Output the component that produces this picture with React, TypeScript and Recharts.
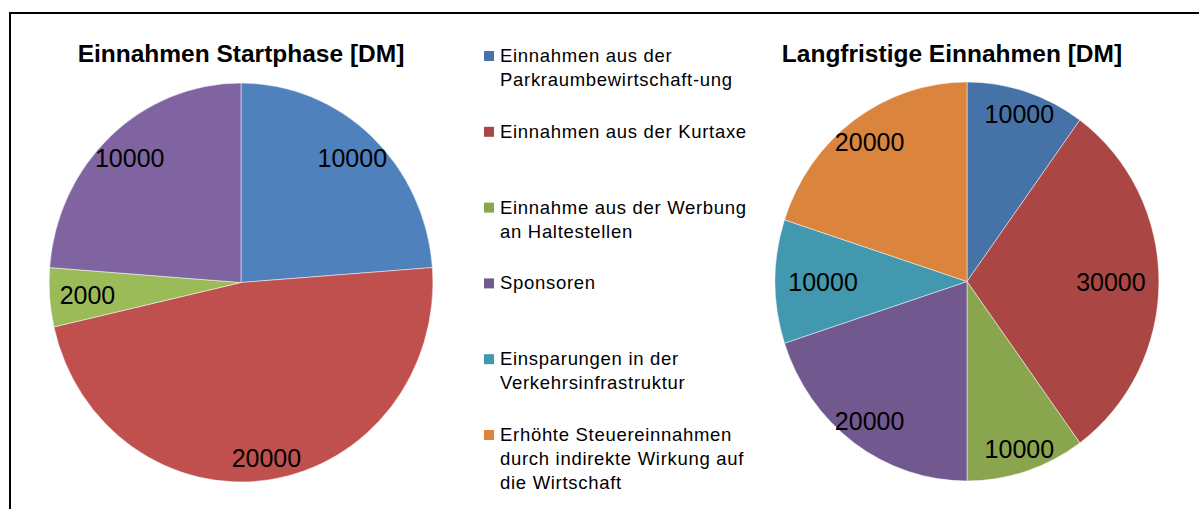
import { Cell, Pie, PieChart } from 'recharts';

const categories = [
  'Einnahmen aus der\nParkraumbewirtschaft-ung',
  'Einnahmen aus der Kurtaxe',
  'Einnahme aus der Werbung\nan Haltestellen',
  'Sponsoren',
  'Einsparungen in der\nVerkehrsinfrastruktur',
  'Erhöhte Steuereinnahmen\ndurch indirekte Wirkung auf\ndie Wirtschaft',
];

const startValues = [10000, 20000, 2000, 10000];
const longTermValues = [10000, 30000, 10000, 20000, 10000, 20000];

const startColors = ['#4F81BD', '#C0504D', '#9BBB59', '#8064A2'];
const longTermColors = ['#4572A7', '#AA4643', '#89A54E', '#71588F', '#4198AF', '#DB843D'];

const startTitle = 'Einnahmen Startphase [DM]';
const longTermTitle = 'Langfristige Einnahmen [DM]';

const startData = startValues.map((value, i) => ({ name: categories[i], value }));
const longTermData = longTermValues.map((value, i) => ({ name: categories[i], value }));

const RADIAN = Math.PI / 180;
const FONT = '"Liberation Sans", Arial, sans-serif';
// the original pies are a bit squashed horizontally
const SQUASH = 0.962;

// labels sit near the rim, pulled in more where the text is wide (left/right)
const renderLabel = (props: any) => {
  const { cx, cy, midAngle, outerRadius, value } = props;
  const s = Math.abs(Math.sin(-midAngle * RADIAN));
  const text = String(value);
  const r = outerRadius * (0.75 + 0.14 * s) + (5 - text.length) * 9 * (1 - s);
  const x = cx + (r / SQUASH) * Math.cos(-midAngle * RADIAN) * SQUASH;
  const y = cy + r * Math.sin(-midAngle * RADIAN);
  return (
    <text
      x={x}
      y={y}
      fill="#000"
      fontSize={26}
      fontFamily={FONT}
      textAnchor="middle"
      dominantBaseline="central"
    >
      {text}
    </text>
  );
};

function OnePie({ data, colors, cx, cy }: { data: { name: string; value: number }[]; colors: string[]; cx: number; cy: number }) {
  return (
    <div
      style={{
        position: 'absolute',
        left: 0,
        top: 0,
        transform: `scaleX(${SQUASH})`,
        transformOrigin: `${cx}px 0px`,
      }}
    >
      <PieChart width={1199} height={509} margin={{ top: 0, right: 0, bottom: 0, left: 0 }}>
        <Pie
          data={data}
          dataKey="value"
          nameKey="name"
          cx={cx}
          cy={cy}
          outerRadius={199.5}
          startAngle={90}
          endAngle={-270}
          stroke="#fff"
          strokeWidth={0.5}
          label={renderLabel}
          labelLine={false}
          isAnimationActive={false}
        >
          {data.map((d, i) => (
            <Cell key={d.name} fill={colors[i]} />
          ))}
        </Pie>
      </PieChart>
    </div>
  );
}

export default function App() {
  return (
    <div style={{ position: 'absolute', left: 0, top: 0, width: 1199, height: 509, background: '#fff', overflow: 'hidden' }}>
      <div
        style={{
          position: 'absolute',
          left: 9,
          top: 12,
          right: -4,
          bottom: -4,
          borderTop: '2px solid #000',
          borderLeft: '2px solid #000',
        }}
      />
      <OnePie data={startData} colors={startColors} cx={241} cy={282.5} />
      <OnePie data={longTermData} colors={longTermColors} cx={967} cy={281.5} />
      <svg
        width={1199}
        height={509}
        style={{ position: 'absolute', left: 0, top: 0, pointerEvents: 'none' }}
        fontFamily={FONT}
      >
        <text x={241} y={62} textAnchor="middle" fontSize={24.5} fontWeight="bold" fill="#000">
          {startTitle}
        </text>
        <text x={952} y={62} textAnchor="middle" fontSize={24.5} fontWeight="bold" fill="#000">
          {longTermTitle}
        </text>
        {categories.map((label, i) => {
          const base = 62 + i * 75.8;
          return (
            <g key={label}>
              <rect x={484} y={base - 11} width={10} height={10} fill={longTermColors[i]} />
              {label.split('\n').map((line, j) => (
                <text
                  key={j}
                  x={500}
                  y={base + j * 24}
                  fontSize={18.5}
                  letterSpacing={0.7}
                  fill="#000"
                >
                  {line}
                </text>
              ))}
            </g>
          );
        })}
      </svg>
    </div>
  );
}
